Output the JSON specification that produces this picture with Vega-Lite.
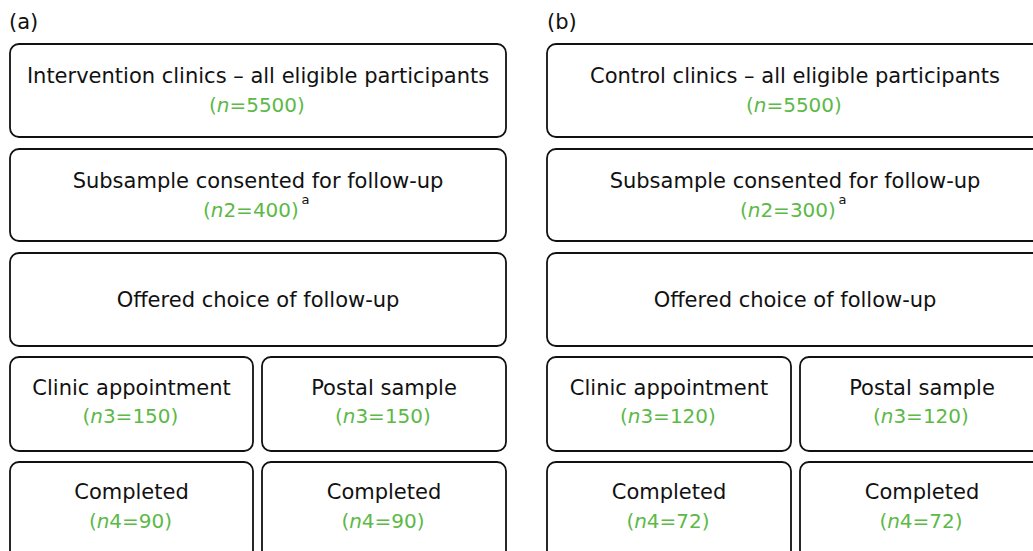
{
  "$schema": "https://vega.github.io/schema/vega-lite/v6.json",
  "width": 1033,
  "height": 551,
  "autosize": {"type": "fit", "contains": "padding"},
  "padding": 0,
  "background": "white",
  "config": {"view": {"stroke": null}},
  "datasets": {
    "boxes": [
      {"panel": "a", "left": 10, "right": 506, "top": 44, "bottom": 137},
      {"panel": "a", "left": 10, "right": 506, "top": 149, "bottom": 241},
      {"panel": "a", "left": 10, "right": 506, "top": 253, "bottom": 346},
      {"panel": "a", "left": 10, "right": 253, "top": 357, "bottom": 451},
      {"panel": "a", "left": 262, "right": 506, "top": 357, "bottom": 451},
      {"panel": "a", "left": 10, "right": 253, "top": 462, "bottom": 560},
      {"panel": "a", "left": 262, "right": 506, "top": 462, "bottom": 560},
      {"panel": "b", "left": 547, "right": 1043, "top": 44, "bottom": 137},
      {"panel": "b", "left": 547, "right": 1043, "top": 149, "bottom": 241},
      {"panel": "b", "left": 547, "right": 1043, "top": 253, "bottom": 346},
      {"panel": "b", "left": 547, "right": 791, "top": 357, "bottom": 451},
      {"panel": "b", "left": 800, "right": 1044, "top": 357, "bottom": 451},
      {"panel": "b", "left": 547, "right": 791, "top": 462, "bottom": 560},
      {"panel": "b", "left": 800, "right": 1044, "top": 462, "bottom": 560}
    ],
    "labels": [
      {"role": "panel", "x": 9, "y": 29, "t": "(a)"},
      {"role": "panel", "x": 547, "y": 29, "t": "(b)"},
      {"role": "main", "x": 258, "y": 83, "t": "Intervention clinics – all eligible participants"},
      {"role": "main", "x": 258, "y": 188, "t": "Subsample consented for follow-up"},
      {"role": "sup", "x": 301.5, "y": 204, "t": "a"},
      {"role": "main", "x": 258, "y": 307, "t": "Offered choice of follow-up"},
      {"role": "main", "x": 131.5, "y": 395, "t": "Clinic appointment"},
      {"role": "main", "x": 384, "y": 395, "t": "Postal sample"},
      {"role": "main", "x": 131.5, "y": 499, "t": "Completed"},
      {"role": "main", "x": 384, "y": 499, "t": "Completed"},
      {"role": "main", "x": 795, "y": 83, "t": "Control clinics – all eligible participants"},
      {"role": "main", "x": 795, "y": 188, "t": "Subsample consented for follow-up"},
      {"role": "sup", "x": 838.5, "y": 204, "t": "a"},
      {"role": "main", "x": 795, "y": 307, "t": "Offered choice of follow-up"},
      {"role": "main", "x": 669, "y": 395, "t": "Clinic appointment"},
      {"role": "main", "x": 922, "y": 395, "t": "Postal sample"},
      {"role": "main", "x": 669, "y": 499, "t": "Completed"},
      {"role": "main", "x": 922, "y": 499, "t": "Completed"}
    ],
    "counts": [
      {"panel": "a", "x": 223.1, "y": 112, "var": "n", "rest": "=5500)"},
      {"panel": "a", "x": 217.1, "y": 217, "var": "n", "rest": "2=400)"},
      {"panel": "a", "x": 96.6, "y": 423, "var": "n", "rest": "3=150)"},
      {"panel": "a", "x": 349.1, "y": 423, "var": "n", "rest": "3=150)"},
      {"panel": "a", "x": 103, "y": 528, "var": "n", "rest": "4=90)"},
      {"panel": "a", "x": 355.5, "y": 528, "var": "n", "rest": "4=90)"},
      {"panel": "b", "x": 760.1, "y": 112, "var": "n", "rest": "=5500)"},
      {"panel": "b", "x": 754.1, "y": 217, "var": "n", "rest": "2=300)"},
      {"panel": "b", "x": 634.1, "y": 423, "var": "n", "rest": "3=120)"},
      {"panel": "b", "x": 887.1, "y": 423, "var": "n", "rest": "3=120)"},
      {"panel": "b", "x": 640.5, "y": 528, "var": "n", "rest": "4=72)"},
      {"panel": "b", "x": 893.5, "y": 528, "var": "n", "rest": "4=72)"}
    ]
  },
  "layer": [
    {
      "data": {"name": "boxes"},
      "mark": {"type": "rect", "cornerRadius": 9, "fill": "white", "stroke": "#111111", "strokeWidth": 1.8, "clip": true},
      "encoding": {
        "x": {"field": "left", "type": "quantitative", "scale": {"domain": [0, 1033], "nice": false, "zero": false}, "axis": null},
        "x2": {"field": "right"},
        "y": {"field": "top", "type": "quantitative", "scale": {"domain": [0, 551], "nice": false, "zero": false, "reverse": true}, "axis": null},
        "y2": {"field": "bottom"}
      }
    },
    {
      "data": {"name": "labels"},
      "transform": [{"filter": "datum.role == 'main'"}],
      "mark": {"type": "text", "font": "DejaVu Sans", "fontSize": 21, "color": "#111111", "align": "center", "baseline": "alphabetic"},
      "encoding": {
        "x": {"field": "x", "type": "quantitative", "scale": {"domain": [0, 1033], "nice": false, "zero": false}, "axis": null},
        "y": {"field": "y", "type": "quantitative", "scale": {"domain": [0, 551], "nice": false, "zero": false, "reverse": true}, "axis": null},
        "text": {"field": "t"}
      }
    },
    {
      "data": {"name": "counts"},
      "mark": {"type": "text", "font": "DejaVu Sans", "fontSize": 20, "color": "#5cb947", "align": "right", "baseline": "alphabetic", "dx": -6.3},
      "encoding": {
        "x": {"field": "x", "type": "quantitative", "scale": {"domain": [0, 1033], "nice": false, "zero": false}, "axis": null},
        "y": {"field": "y", "type": "quantitative", "scale": {"domain": [0, 551], "nice": false, "zero": false, "reverse": true}, "axis": null},
        "text": {"value": "("}
      }
    },
    {
      "data": {"name": "counts"},
      "mark": {"type": "text", "font": "DejaVu Sans", "fontSize": 20, "fontStyle": "oblique", "color": "#5cb947", "align": "center", "baseline": "alphabetic"},
      "encoding": {
        "x": {"field": "x", "type": "quantitative", "scale": {"domain": [0, 1033], "nice": false, "zero": false}, "axis": null},
        "y": {"field": "y", "type": "quantitative", "scale": {"domain": [0, 551], "nice": false, "zero": false, "reverse": true}, "axis": null},
        "text": {"field": "var"}
      }
    },
    {
      "data": {"name": "counts"},
      "mark": {"type": "text", "font": "DejaVu Sans", "fontSize": 20, "color": "#5cb947", "align": "left", "baseline": "alphabetic", "dx": 6.3},
      "encoding": {
        "x": {"field": "x", "type": "quantitative", "scale": {"domain": [0, 1033], "nice": false, "zero": false}, "axis": null},
        "y": {"field": "y", "type": "quantitative", "scale": {"domain": [0, 551], "nice": false, "zero": false, "reverse": true}, "axis": null},
        "text": {"field": "rest"}
      }
    },
    {
      "data": {"name": "labels"},
      "transform": [{"filter": "datum.role == 'sup'"}],
      "mark": {"type": "text", "font": "DejaVu Sans", "fontSize": 13, "color": "#111111", "align": "left", "baseline": "alphabetic"},
      "encoding": {
        "x": {"field": "x", "type": "quantitative", "scale": {"domain": [0, 1033], "nice": false, "zero": false}, "axis": null},
        "y": {"field": "y", "type": "quantitative", "scale": {"domain": [0, 551], "nice": false, "zero": false, "reverse": true}, "axis": null},
        "text": {"field": "t"}
      }
    },
    {
      "data": {"name": "labels"},
      "transform": [{"filter": "datum.role == 'panel'"}],
      "mark": {"type": "text", "font": "DejaVu Sans", "fontSize": 21, "color": "#111111", "align": "left", "baseline": "alphabetic"},
      "encoding": {
        "x": {"field": "x", "type": "quantitative", "scale": {"domain": [0, 1033], "nice": false, "zero": false}, "axis": null},
        "y": {"field": "y", "type": "quantitative", "scale": {"domain": [0, 551], "nice": false, "zero": false, "reverse": true}, "axis": null},
        "text": {"field": "t"}
      }
    }
  ]
}
